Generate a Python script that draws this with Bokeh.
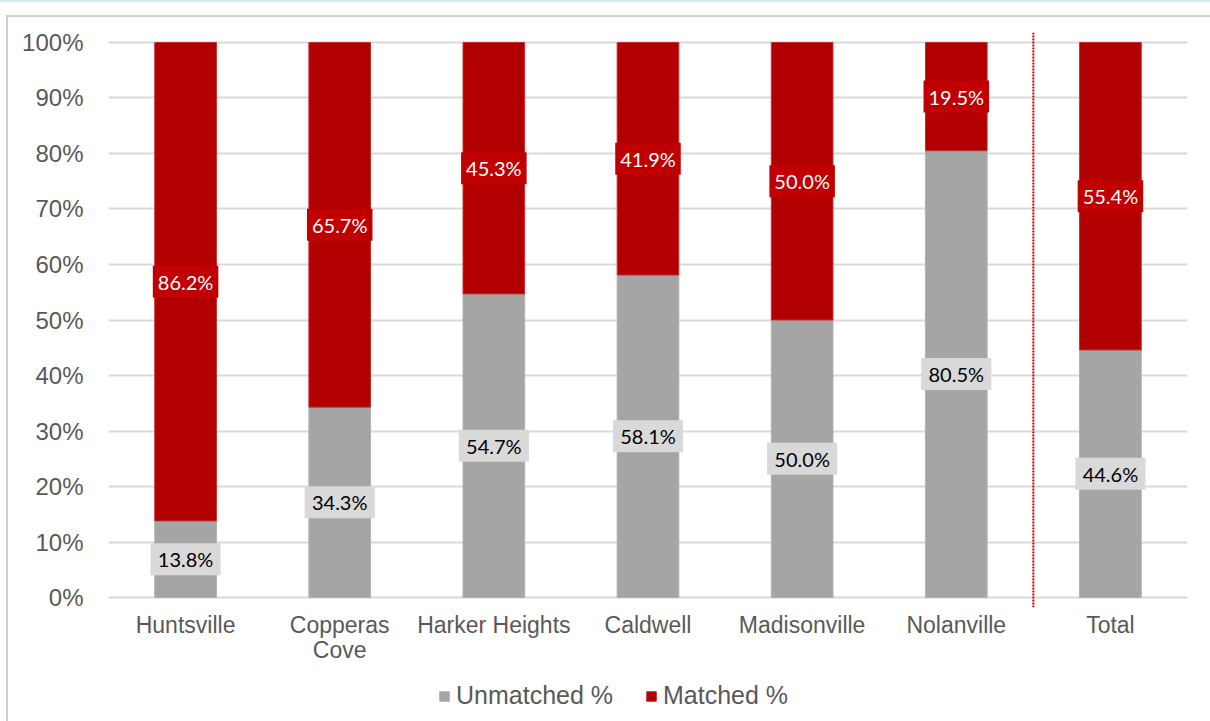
from bokeh.plotting import figure
from bokeh.layouts import column
from bokeh.models import (FactorRange, Range1d, FixedTicker, PrintfTickFormatter,
                          ColumnDataSource, Legend, LegendItem, CategoricalAxis,
                          CustomJSTickFormatter)
from bokeh.core.properties import value
from bokeh.embed import file_html
from bokeh.resources import INLINE

# ---- data ----
categories = ["Huntsville", "Copperas Cove", "Harker Heights", "Caldwell",
              "Madisonville", "Nolanville", "Total"]
unmatched = [13.8, 34.3, 54.7, 58.1, 50.0, 80.5, 44.6]
matched = [86.2, 65.7, 45.3, 41.9, 50.0, 19.5, 55.4]
y_ticks = [0, 10, 20, 30, 40, 50, 60, 70, 80, 90, 100]
series_names = ["Unmatched %", "Matched %"]
# two-line category labels
label_line1 = ["Huntsville", "Copperas", "Harker Heights", "Caldwell",
               "Madisonville", "Nolanville", "Total"]
label_line2 = ["", "Cove", "", "", "", "", ""]

GRAY = "#A5A5A5"
RED = "#B20000"
RED_LBL = "#C00000"
GRAY_LBL = "#D9D9D9"
TXT = "#595959"

src = ColumnDataSource(dict(
    cat=categories,
    unmatched=unmatched,
    matched=matched,
    um_mid=[u / 2 for u in unmatched],
    m_mid=[u + m / 2 for u, m in zip(unmatched, matched)],
    um_txt=[f"{u:.1f}%" for u in unmatched],
    m_txt=[f"{m:.1f}%" for m in matched],
))

p = figure(width=1202, height=653, x_range=FactorRange(*categories, range_padding=0),
           y_range=Range1d(-1.8, 101.8), output_backend="svg", toolbar_location=None,
           min_border_left=100, min_border_right=23, min_border_top=15,
           min_border_bottom=63)
p.outline_line_color = None
p.background_fill_color = "white"
p.border_fill_color = "white"

rs = p.vbar_stack(["unmatched", "matched"], x="cat", width=0.4, source=src,
                  fill_color=[GRAY, RED], line_color=["#B0B0B0", "#C03030"], line_width=1)

# separator before Total
p.segment(x0=[("Total", -0.5)], x1=[("Total", -0.5)], y0=[-1.8], y1=[101.8],
          line_color=RED_LBL, line_width=2, line_dash="2 1")

# labels
p.rect(x="cat", y="um_mid", width=0.455, height=32, height_units="screen",
       source=src, fill_color=GRAY_LBL, line_color=None)
p.text(x="cat", y="um_mid", text="um_txt", source=src, text_align="center",
       text_baseline="middle", text_font=value("Lato"), text_font_size="20px",
       text_color="black")
p.rect(x="cat", y="m_mid", width=0.425, height=32, height_units="screen",
       source=src, fill_color=RED_LBL, line_color=None)
p.text(x="cat", y="m_mid", text="m_txt", source=src, text_align="center",
       text_baseline="middle", text_font=value("Lato"), text_font_size="20px",
       text_color="white")

# axes
p.yaxis.ticker = FixedTicker(ticks=y_ticks)
p.yaxis.formatter = PrintfTickFormatter(format="%d%%")
p.yaxis.axis_line_color = None
p.yaxis.major_tick_line_color = None
p.yaxis.minor_tick_line_color = None
p.yaxis.major_tick_out = 0
p.yaxis.major_tick_in = 0
p.yaxis.major_label_standoff = 25
p.yaxis.major_label_text_font = "Liberation Sans"
p.yaxis.major_label_text_font_size = "24px"
p.yaxis.major_label_text_color = TXT

FMT_CODE = "const i = cats.indexOf(tick); return i >= 0 ? lab[i] : tick;"


def style_xaxis(ax, standoff, labels):
    ax.axis_line_color = None
    ax.major_tick_line_color = None
    ax.major_tick_out = 0
    ax.major_tick_in = 0
    ax.major_label_standoff = standoff
    ax.major_label_text_font = "Liberation Sans"
    ax.major_label_text_font_size = "23px"
    ax.major_label_text_color = TXT
    ax.formatter = CustomJSTickFormatter(args=dict(cats=categories, lab=labels),
                                         code=FMT_CODE)


style_xaxis(p.xaxis[0], 4, label_line1)
ax2 = CategoricalAxis()
style_xaxis(ax2, -4, label_line2)
p.add_layout(ax2, "below")

p.xgrid.grid_line_color = None
p.ygrid.ticker = FixedTicker(ticks=y_ticks)
p.ygrid.grid_line_color = "#D9D9D9"
p.ygrid.grid_line_width = 2

# legend figure (legend proxies sit outside the visible range)
pl = figure(width=1202, height=51, output_backend="svg", toolbar_location=None,
            min_border=0, x_range=Range1d(0, 1), y_range=Range1d(0, 1))
pl.axis.visible = False
pl.grid.visible = False
pl.outline_line_color = None
pl.border_fill_color = "white"
lr0 = pl.vbar(x=[0.5], top=[-5], bottom=[-6], width=0.1, fill_color=GRAY,
              line_color="#B0B0B0")
lr1 = pl.vbar(x=[0.5], top=[-5], bottom=[-6], width=0.1, fill_color=RED,
              line_color="#C03030")
legend = Legend(items=[LegendItem(label=series_names[0], renderers=[lr0]),
                       LegendItem(label=series_names[1], renderers=[lr1])],
                orientation="horizontal", location=(330, 11),
                label_text_font="Liberation Sans", label_text_font_size="25px",
                label_text_color=TXT, glyph_width=12, glyph_height=12,
                label_standoff=6, spacing=32, padding=0, margin=0,
                border_line_color=None, background_fill_alpha=0)
pl.add_layout(legend)

inner = column(p, pl, spacing=0,
               styles={"margin-left": "6px", "margin-top": "13px",
                       "border-left": "2px solid #D0D0D0",
                       "border-top": "2px solid #D0D0D0"})
outer = column(inner, spacing=0, styles={"border-top": "2px solid #C8F0F5"})

open("out.html", "w").write(file_html(outer, INLINE))
